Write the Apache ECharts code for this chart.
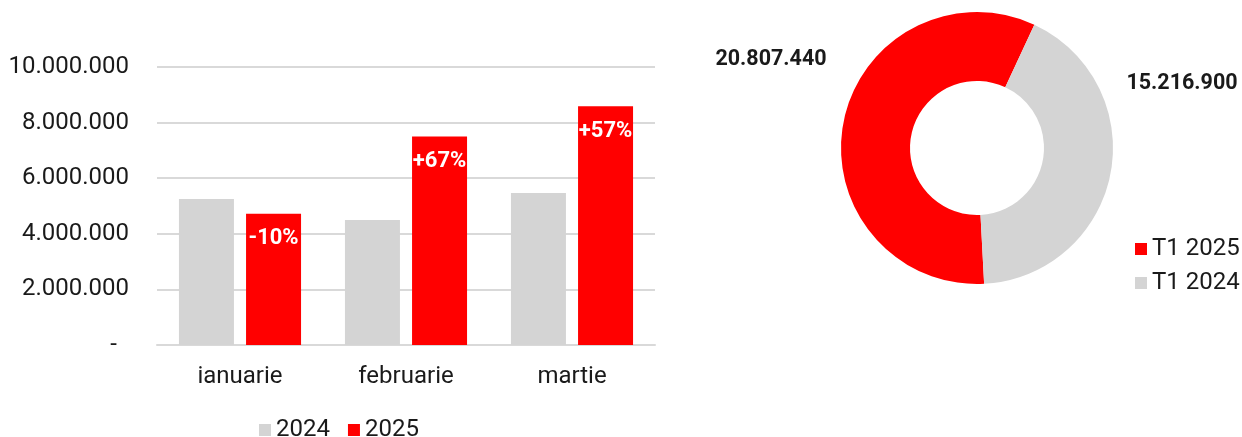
<!DOCTYPE html>
<html>
<head>
<meta charset="utf-8">
<script src="https://cdn.jsdelivr.net/npm/echarts@6/dist/echarts.min.js"></script>
<style>
  html, body { margin: 0; padding: 0; background: #fff; }
  #chart { width: 1242px; height: 437px; }
</style>
</head>
<body>
<div id="chart"></div>
<script>
// -----------------------------------------------------------------------------
// Data
// -----------------------------------------------------------------------------
const months = ["ianuarie", "februarie", "martie"];
const values2024 = [5250000, 4500000, 5470000];
const values2025 = [4720000, 7500000, 8590000];
const changeLabels = ["-10%", "+67%", "+57%"];

const quarterNames = ["T1 2025", "T1 2024"];
const quarterValues = [20807440, 15216900];

const RED = "#ff0000";
const GREY = "#d4d4d4";
const FONT = "Roboto";

// 10000000 -> "10.000.000", 0 -> "-"
const fmt = (v) => String(Math.round(v)).replace(/\B(?=(\d{3})+(?!\d))/g, ".");

const chart = echarts.init(document.getElementById("chart"), null, { renderer: "canvas" });

const option = {
  backgroundColor: "#fff",
  animation: false,
  textStyle: { fontFamily: FONT },
  legend: [
    {
      data: ["2024", "2025"],
      left: 254,
      top: 413,
      itemWidth: 12,
      itemHeight: 12,
      itemGap: 18,
      icon: "rect",
      textStyle: { fontSize: 24, color: "#1a1a1a", fontFamily: FONT },
    },
    {
      data: quarterNames,
      orient: "vertical",
      left: 1130,
      top: 232,
      itemWidth: 12,
      itemHeight: 12,
      itemGap: 10,
      icon: "rect",
      textStyle: { fontSize: 24, color: "#1a1a1a", fontFamily: FONT },
    },
  ],
  grid: { left: 157, right: 587, top: 67, bottom: 92, containLabel: false },
  xAxis: {
    type: "category",
    data: months,
    axisTick: { show: false },
    axisLine: { lineStyle: { color: "#d9d9d9", width: 2 } },
    axisLabel: { fontSize: 24, color: "#1a1a1a", margin: 20, fontFamily: FONT },
  },
  yAxis: {
    type: "value",
    min: 0,
    max: 10000000,
    interval: 2000000,
    axisLine: { show: false },
    axisTick: { show: false },
    splitLine: { lineStyle: { color: "#d9d9d9", width: 2 } },
    axisLabel: {
      fontSize: 24,
      color: "#1a1a1a",
      margin: 28,
      fontFamily: FONT,
      formatter: (v) => (v === 0 ? "{z|-}" : fmt(v)),
      rich: { z: { fontSize: 24, color: "#1a1a1a", padding: [0, 12, 0, 0] } },
    },
  },
  series: [
    {
      name: "2024",
      type: "bar",
      data: values2024,
      barWidth: 55,
      barGap: "22%",
      itemStyle: { color: GREY },
    },
    {
      name: "2025",
      type: "bar",
      data: values2025,
      barWidth: 55,
      itemStyle: { color: RED },
      label: {
        show: true,
        position: "insideTop",
        distance: 14,
        color: "#fff",
        fontWeight: "bold",
        fontSize: 22,
        fontFamily: FONT,
        formatter: (p) => changeLabels[p.dataIndex],
      },
    },
    {
      name: "T1",
      type: "pie",
      center: [977, 148],
      radius: [67, 136],
      startAngle: -87,
      clockwise: true,
      data: quarterNames.map((n, i) => ({
        name: n,
        value: quarterValues[i],
        itemStyle: { color: i === 0 ? RED : GREY },
      })),
      label: {
        show: true,
        position: "outside",
        fontSize: 21.5,
        fontWeight: "bold",
        color: "#1a1a1a",
        fontFamily: FONT,
        overflow: "none",
        formatter: (p) => fmt(p.value),
      },
      labelLine: { show: false },
      labelLayout: (p) =>
        p.dataIndex === 0
          ? { x: 771, y: 60, align: "center", verticalAlign: "middle", width: 140 }
          : { x: 1182, y: 84, align: "center", verticalAlign: "middle", width: 140 },
    },
  ],
};

chart.setOption(option);
</script>
</body>
</html>
